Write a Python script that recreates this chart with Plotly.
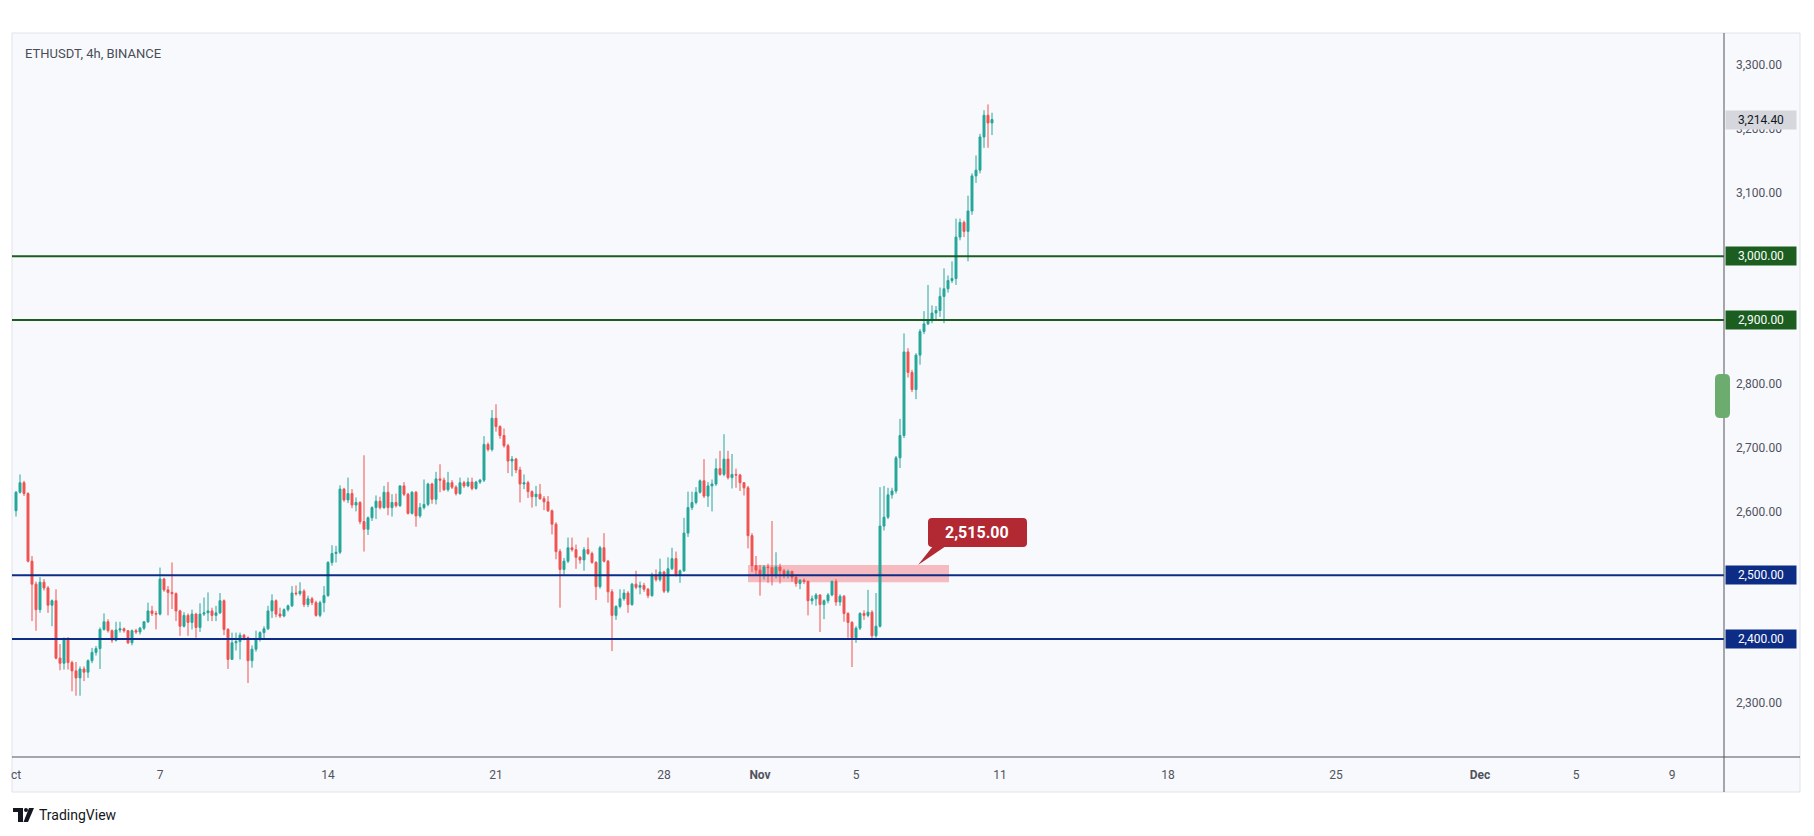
import pandas as pd
import plotly.graph_objects as go

# ---------------- data (ETHUSDT 4h) ----------------
start_time = "2024-10-01 00:00"
first_open = 2601

closes = [2630, 2645, 2628, 2522, 2486, 2446, 2489, 2480, 2453, 2460,
          2370, 2362, 2401, 2363, 2350, 2339, 2353, 2348, 2366, 2379,
          2385, 2415, 2427, 2413, 2398, 2414, 2416, 2413, 2394, 2413,
          2411, 2417, 2427, 2444, 2440, 2439, 2494, 2477, 2473, 2471,
          2444, 2420, 2437, 2426, 2439, 2418, 2439, 2441, 2444, 2437,
          2441, 2460, 2415, 2368, 2394, 2396, 2406, 2402, 2366, 2384,
          2400, 2410, 2416, 2444, 2460, 2439, 2436, 2446, 2452, 2472,
          2471, 2475, 2454, 2463, 2457, 2437, 2457, 2468, 2520, 2534,
          2536, 2635, 2618, 2628, 2610, 2614, 2584, 2572, 2590, 2606,
          2616, 2606, 2630, 2606, 2614, 2609, 2640, 2627, 2597, 2630,
          2593, 2606, 2611, 2643, 2619, 2651, 2649, 2634, 2645, 2638,
          2628, 2645, 2640, 2646, 2636, 2646, 2649, 2705, 2697, 2746,
          2733, 2719, 2703, 2679, 2682, 2665, 2643, 2645, 2631, 2623,
          2627, 2620, 2615, 2601, 2580, 2537, 2509, 2522, 2543, 2540,
          2528, 2524, 2540, 2534, 2520, 2482, 2543, 2522, 2474, 2437,
          2451, 2463, 2472, 2454, 2486, 2481, 2484, 2478, 2468, 2500,
          2493, 2505, 2475, 2510, 2526, 2501, 2507, 2566, 2606, 2614,
          2630, 2648, 2624, 2640, 2643, 2667, 2658, 2682, 2653, 2658,
          2657, 2645, 2637, 2562, 2515, 2508, 2501, 2513, 2512, 2501,
          2513, 2507, 2501, 2506, 2497, 2487, 2492, 2490, 2460, 2463,
          2469, 2454, 2460, 2469, 2490, 2458, 2467, 2440, 2426, 2402,
          2417, 2440, 2437, 2442, 2405, 2420, 2577, 2591, 2626, 2632,
          2684, 2719, 2850, 2818, 2791, 2845, 2882, 2894, 2899, 2911,
          2915, 2937, 2949, 2962, 2965, 3030, 3053, 3039, 3071, 3126,
          3135, 3187, 3221, 3209, 3214.4]

highs = [2632, 2658, 2648, 2630, 2530, 2490, 2497, 2494, 2483, 2462,
         2478, 2392, 2402, 2403, 2366, 2364, 2357, 2357, 2368, 2386,
         2389, 2418, 2440, 2431, 2415, 2427, 2427, 2418, 2414, 2415,
         2416, 2419, 2428, 2457, 2452, 2444, 2512, 2496, 2483, 2520,
         2473, 2446, 2442, 2440, 2446, 2441, 2456, 2465, 2473, 2449,
         2452, 2472, 2462, 2417, 2410, 2410, 2410, 2408, 2404, 2390,
         2413, 2412, 2420, 2452, 2470, 2462, 2449, 2448, 2454, 2483,
         2484, 2489, 2478, 2468, 2466, 2460, 2460, 2483, 2522, 2547,
         2546, 2641, 2637, 2653, 2635, 2622, 2616, 2688, 2592, 2608,
         2625, 2623, 2640, 2646, 2627, 2628, 2641, 2646, 2629, 2632,
         2632, 2613, 2650, 2645, 2645, 2662, 2674, 2653, 2662, 2649,
         2641, 2653, 2648, 2653, 2653, 2648, 2651, 2718, 2708, 2759,
         2768, 2735, 2730, 2706, 2687, 2684, 2670, 2658, 2648, 2633,
         2640, 2643, 2624, 2624, 2603, 2583, 2541, 2527, 2559, 2559,
         2548, 2530, 2544, 2559, 2537, 2522, 2546, 2566, 2524, 2478,
         2453, 2478, 2478, 2475, 2488, 2507, 2490, 2488, 2480, 2504,
         2509, 2526, 2507, 2528, 2543, 2537, 2509, 2590, 2631, 2631,
         2638, 2650, 2682, 2646, 2650, 2683, 2695, 2721, 2695, 2690,
         2667, 2659, 2646, 2640, 2566, 2530, 2516, 2516, 2518, 2585,
         2536, 2518, 2510, 2509, 2507, 2498, 2494, 2495, 2492, 2468,
         2472, 2470, 2462, 2472, 2492, 2494, 2470, 2469, 2442, 2428,
         2420, 2442, 2445, 2477, 2445, 2472, 2638, 2640, 2637, 2637,
         2687, 2745, 2879, 2856, 2822, 2848, 2886, 2914, 2955, 2923,
         2922, 2951, 2981, 2970, 2992, 3059, 3059, 3056, 3095, 3130,
         3158, 3192, 3229, 3238, 3225]

lows = [2592, 2628, 2624, 2520, 2428, 2413, 2441, 2476, 2441, 2420,
        2368, 2351, 2352, 2352, 2318, 2311, 2311, 2334, 2339, 2362,
        2374, 2353, 2413, 2410, 2394, 2396, 2410, 2410, 2392, 2390,
        2408, 2407, 2414, 2425, 2436, 2415, 2437, 2474, 2437, 2447,
        2428, 2405, 2418, 2405, 2415, 2402, 2411, 2436, 2428, 2428,
        2428, 2439, 2406, 2353, 2368, 2382, 2368, 2398, 2331, 2355,
        2380, 2396, 2400, 2414, 2433, 2434, 2433, 2434, 2443, 2450,
        2468, 2468, 2450, 2450, 2453, 2435, 2434, 2442, 2466, 2515,
        2520, 2533, 2615, 2613, 2605, 2600, 2580, 2537, 2563, 2585,
        2588, 2603, 2604, 2594, 2592, 2606, 2607, 2624, 2595, 2595,
        2576, 2590, 2603, 2608, 2612, 2611, 2630, 2632, 2631, 2635,
        2625, 2626, 2637, 2638, 2633, 2634, 2643, 2646, 2694, 2694,
        2725, 2714, 2700, 2660, 2655, 2660, 2614, 2635, 2621, 2606,
        2608, 2618, 2602, 2599, 2564, 2525, 2449, 2501, 2519, 2537,
        2510, 2518, 2507, 2532, 2518, 2461, 2479, 2520, 2457, 2381,
        2430, 2448, 2460, 2441, 2452, 2478, 2470, 2474, 2464, 2466,
        2490, 2490, 2472, 2472, 2508, 2498, 2488, 2505, 2560, 2602,
        2611, 2628, 2621, 2607, 2600, 2640, 2656, 2655, 2650, 2636,
        2637, 2632, 2625, 2542, 2505, 2500, 2468, 2493, 2488, 2484,
        2495, 2487, 2495, 2495, 2490, 2482, 2478, 2486, 2437, 2454,
        2452, 2411, 2431, 2456, 2467, 2452, 2452, 2427, 2402, 2356,
        2394, 2414, 2430, 2434, 2399, 2402, 2418, 2570, 2588, 2620,
        2628, 2668, 2715, 2810, 2787, 2776, 2830, 2878, 2892, 2895,
        2899, 2905, 2895, 2943, 2958, 2955, 3025, 3030, 2992, 3065,
        3115, 3130, 3170, 3170, 3190]

opens = [first_open] + closes[:-1]
times = pd.date_range(start_time, periods=len(closes), freq="4h")

support_levels = [2400, 2500]
resistance_levels = [2900, 3000]
zone_low, zone_high = 2489, 2516
zone_start, zone_end = "2024-10-31 12:00", "2024-11-08 21:00"
callout_text = "2,515.00"
last_price = closes[-1]

y_ticks = [2300, 2400, 2500, 2600, 2700, 2800, 2900, 3000, 3100, 3200, 3300]
x_tick_dates = ["2024-10-01", "2024-10-07", "2024-10-14", "2024-10-21", "2024-10-28",
                "2024-11-01", "2024-11-05", "2024-11-11", "2024-11-18", "2024-11-25",
                "2024-12-01", "2024-12-05", "2024-12-09"]
x_tick_labels = ["ct", "7", "14", "21", "28", "<b>Nov</b>", "5", "11", "18", "25",
                 "<b>Dec</b>", "5", "9"]

# ---------------- layout geometry (pixels) ----------------
W, H = 1814, 836
PL, PR, PT, PB = 12, 1724, 33, 757   # plot area


def px(x):
    return (x - PL) / (PR - PL)


def py(y):
    return (PB - y) / (PB - PT)


def path_from(points):
    s = "M {:.5f},{:.5f}".format(px(points[0][0]), py(points[0][1]))
    for p in points[1:]:
        s += " L {:.5f},{:.5f}".format(px(p[0]), py(p[1]))
    return s + " Z"


def rrect_path(x0, y0, x1, y1, r):
    def P(x, y):
        return "{:.5f},{:.5f}".format(px(x), py(y))
    return ("M " + P(x0 + r, y0) + " L " + P(x1 - r, y0) + " Q " + P(x1, y0) + " " + P(x1, y0 + r)
            + " L " + P(x1, y1 - r) + " Q " + P(x1, y1) + " " + P(x1 - r, y1)
            + " L " + P(x0 + r, y1) + " Q " + P(x0, y1) + " " + P(x0, y1 - r)
            + " L " + P(x0, y0 + r) + " Q " + P(x0, y0) + " " + P(x0 + r, y0) + " Z")


FONT = "Roboto, 'Noto Sans', sans-serif"
BG = "#F8F9FD"
GREEN_LVL = "#1B5E20"
BLUE_LVL = "#0D2C86"
AXIS_TXT = "#50535E"

fig = go.Figure()
fig.add_trace(go.Candlestick(
    x=times, open=opens, high=highs, low=lows, close=closes,
    increasing=dict(line=dict(color="#26A69A", width=1), fillcolor="#26A69A"),
    decreasing=dict(line=dict(color="#EF5350", width=1), fillcolor="#EF5350"),
    whiskerwidth=0, showlegend=False, hoverinfo="skip"))

shapes = []
# panel background + border
shapes.append(dict(type="rect", xref="paper", yref="paper", x0=px(12), x1=px(1800),
                   y0=py(33), y1=py(792), fillcolor=BG, line=dict(color="#E0E3EB", width=1),
                   layer="below"))
# pink zone
shapes.append(dict(type="rect", xref="x", yref="y", x0=zone_start, x1=zone_end,
                   y0=zone_low, y1=zone_high, fillcolor="rgba(242,54,69,0.32)",
                   line=dict(width=0), layer="below"))
# level lines
for lv in resistance_levels:
    shapes.append(dict(type="line", xref="paper", yref="y", x0=0, x1=1, y0=lv, y1=lv,
                       line=dict(color=GREEN_LVL, width=2)))
for lv in support_levels:
    shapes.append(dict(type="line", xref="paper", yref="y", x0=0, x1=1, y0=lv, y1=lv,
                       line=dict(color=BLUE_LVL, width=2)))
# axis separators
shapes.append(dict(type="line", xref="paper", yref="paper", x0=px(12), x1=px(1800),
                   y0=py(757), y1=py(757), line=dict(color="#50535E", width=1)))
shapes.append(dict(type="line", xref="paper", yref="paper", x0=px(1724), x1=px(1724),
                   y0=py(33), y1=py(792), line=dict(color="#50535E", width=1)))
# green tab on the price scale edge
shapes.append(dict(type="path", xref="paper", yref="paper",
                   path=rrect_path(1715, 374, 1730, 418, 5), fillcolor="#6DAC6F",
                   line=dict(width=0)))
# callout box + pointer
shapes.append(dict(type="path", xref="paper", yref="paper",
                   path=rrect_path(928, 518, 1027, 547, 4), fillcolor="#B22833",
                   line=dict(width=0)))
shapes.append(dict(type="path", xref="paper", yref="paper",
                   path=path_from([(933, 546), (946, 546), (918, 565)]),
                   fillcolor="#B22833", line=dict(width=0)))
# TradingView logo
shapes.append(dict(type="path", xref="paper", yref="paper",
                   path=path_from([(13, 808), (23, 808), (23, 822), (18, 822), (18, 812), (13, 812)]),
                   fillcolor="#131722", line=dict(width=0)))
shapes.append(dict(type="circle", xref="paper", yref="paper",
                   x0=px(24), x1=px(28), y0=py(808), y1=py(812),
                   fillcolor="#131722", line=dict(width=0)))
shapes.append(dict(type="path", xref="paper", yref="paper",
                   path=path_from([(29, 808), (34, 808), (28, 822), (23.5, 822)]),
                   fillcolor="#131722", line=dict(width=0)))
# cover behind the price label of the last value

annotations = []
annotations.append(dict(xref="paper", yref="paper", x=px(23), y=py(53), xanchor="left",
                        yanchor="middle", text="ETHUSDT, 4h, BINANCE", showarrow=False,
                        font=dict(family=FONT, size=13, color="#4A4D57")))
annotations.append(dict(xref="paper", yref="paper", x=px(977), y=py(532), xanchor="center",
                        yanchor="middle", text="<b>" + callout_text + "</b>", showarrow=False,
                        font=dict(family=FONT, size=16, color="white")))
annotations.append(dict(xref="paper", yref="paper", x=px(37), y=py(815), xanchor="left",
                        yanchor="middle", text="TradingView", showarrow=False,
                        font=dict(family=FONT, size=14, color="#131722")))


def price_label(v, bg, fg):
    return dict(xref="paper", yref="y", x=1, xshift=1, y=v, xanchor="left", yanchor="middle",
                text="{:,.2f}".format(v), showarrow=False, bgcolor=bg, borderpad=2,
                width=66, height=14, align="center",
                font=dict(family=FONT, size=12, color=fg))


for lv in resistance_levels:
    annotations.append(price_label(lv, GREEN_LVL, "white"))
for lv in support_levels:
    annotations.append(price_label(lv, BLUE_LVL, "white"))
annotations.append(price_label(last_price, "#D5D7DD", "#131722"))

fig.update_layout(
    width=W, height=H,
    margin=dict(l=PL, r=W - PR, t=PT, b=H - PB, pad=0),
    paper_bgcolor="white", plot_bgcolor=BG,
    font=dict(family=FONT, size=12, color=AXIS_TXT),
    shapes=shapes, annotations=annotations, showlegend=False,
    xaxis=dict(type="date", range=["2024-09-30 20:00", "2024-12-11 04:00"],
               rangeslider=dict(visible=False), showgrid=False, zeroline=False,
               showline=False, ticks="", tickvals=x_tick_dates, ticktext=x_tick_labels,
               tickfont=dict(family=FONT, size=12, color=AXIS_TXT), ticklabelstandoff=9),
    yaxis=dict(range=[2215, 3350], side="right", showgrid=False, zeroline=False,
               showline=False, ticks="", tickvals=y_ticks,
               ticktext=["{:,.2f}".format(v) for v in y_ticks],
               tickfont=dict(family=FONT, size=12, color=AXIS_TXT), ticklabelstandoff=11),
)

fig.write_html("out.html", config={"displayModeBar": False})
